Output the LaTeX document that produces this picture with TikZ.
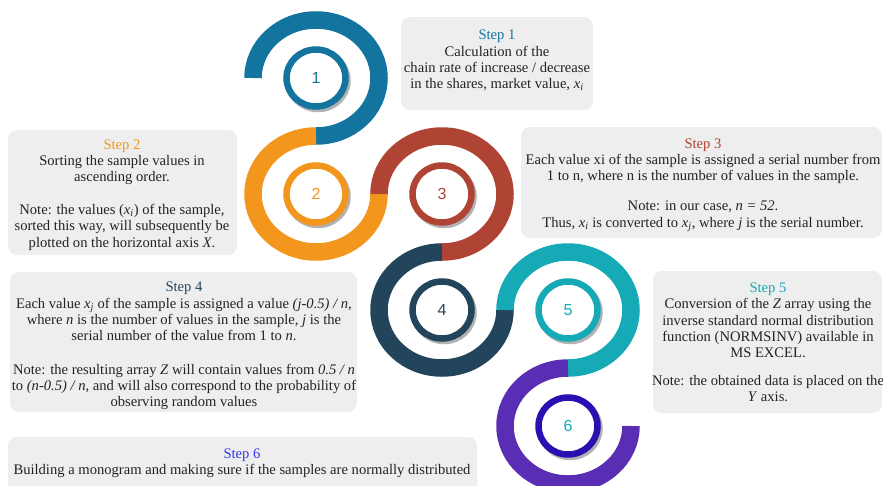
\documentclass[tikz,border=0pt]{standalone}
\usepackage{fontspec}
\setmainfont{Liberation Serif}
\newfontfamily\numfont{Liberation Sans}
\usetikzlibrary{shapes.geometric,shadows}

\definecolor{stepblue}{RGB}{20,116,160}
\definecolor{steporange}{RGB}{242,150,30}
\definecolor{stepred}{RGB}{175,67,52}
\definecolor{stepnavy}{RGB}{35,69,92}
\definecolor{stepteal}{RGB}{22,170,182}
\definecolor{steppurple}{RGB}{90,46,180}
\definecolor{stepindigo}{RGB}{42,16,176}
\definecolor{stepsix}{RGB}{55,55,235}
\definecolor{boxgray}{RGB}{238,238,238}
\definecolor{textdark}{RGB}{35,35,35}

\tikzset{spiral/.style = {draw = #1, line width = 17.5pt},
         ring/.style 2 args = {ellipse, draw = #1, fill = white, line width = 6.5pt,
                               minimum width = 59pt, minimum height = 57pt, inner sep = 0pt,
                               text = #2, font = \numfont\fontsize{16}{16}\selectfont,
                               drop shadow = {shadow xshift = 2pt, shadow yshift = -2.5pt,
                                              fill = none, draw = black!30, opacity = 1,
                                              line width = 6.5pt}},
         stepbox/.style = {fill = boxgray, rounded corners = 9pt},
         steptext/.style = {align = center, inner sep = 0pt, text = textdark,
                            font = \fontsize{14.6}{16.3}\selectfont}
        }

\begin{document}
\begin{tikzpicture}[x = 1pt, y = 1pt]
\useasboundingbox (0,0) rectangle (883,-485);

\fill[stepbox] (401,-17) rectangle (593,-110);
\fill[stepbox] (8,-130) rectangle (237,-255);
\fill[stepbox] (521,-127) rectangle (882,-238);
\fill[stepbox] (10,-272) rectangle (357,-412);
\fill[stepbox] (653,-271) rectangle (882,-413);
\fill[stepbox] (8,-437) rectangle (477,-500);

\node[ring = {stepblue}{stepblue}] at (316,-78) (n1) {1};
\node[ring = {steporange}{steporange}] at (316,-194) (n2) {2};
\node[ring = {stepred}{stepred}] at (442,-194) (n3) {3};
\node[ring = {stepnavy}{stepnavy}] at (442,-310) (n4) {4};
\node[ring = {stepteal}{stepteal}] at (568,-310) (n5) {5};
\node[ring = {stepindigo}{stepteal}] at (568,-426) (n6) {6};

\draw[spiral = stepblue] (n1.center) ++(-63,0) arc[start angle = 180, end angle = -90, x radius = 63, y radius = 58];
\draw[spiral = steporange] (n2.center) ++(0,58) arc[start angle = 90, end angle = 360, x radius = 63, y radius = 58];
\draw[spiral = stepred] (n3.center) ++(-63,0) arc[start angle = 180, end angle = -90, x radius = 63, y radius = 58];
\draw[spiral = stepnavy] (n4.center) ++(0,58) arc[start angle = 90, end angle = 360, x radius = 63, y radius = 58];
\draw[spiral = stepteal] (n5.center) ++(-63,0) arc[start angle = 180, end angle = -90, x radius = 63, y radius = 58];
\draw[spiral = steppurple] (n6.center) ++(0,58) arc[start angle = 90, end angle = 360, x radius = 63, y radius = 58];

\node[steptext] at (497,-60.5) (t1) {\textcolor{stepblue}{Step 1}\\
  Calculation of the\\
  chain rate of increase / decrease\\
  in the shares, market value, \textit{x\textsubscript{i}}};
\node[steptext] at (122,-195) (t2) {\textcolor{steporange}{Step 2}\\
  Sorting the sample values in\\
  ascending order.\\[16.5pt]
  Note: the values (\textit{x\textsubscript{i}}) of the sample,\\
  sorted this way, will subsequently be\\
  plotted on the horizontal axis \textit{X}.};
\node[steptext] at (703,-185) (t3) {\textcolor{stepred}{Step 3}\\
  Each value xi of the sample is assigned a serial number from\\
  1 to n, where n is the number of values in the sample.\\[14pt]
  Note: in our case, \textit{n = 52}.\\
  Thus, \textit{x\textsubscript{i}} is converted to \textit{x\textsubscript{j}}, where \textit{j} is the serial number.};
\node[steptext] at (184,-346) (t4) {\textcolor{stepnavy}{Step 4}\\
  Each value \textit{x\textsubscript{j}} of the sample is assigned a value \textit{(j-0.5) / n},\\
  where \textit{n} is the number of values in the sample, \textit{j} is the\\
  serial number of the value from 1 to \textit{n}.\\[17pt]
  Note: the resulting array \textit{Z} will contain values from \textit{0.5 / n}\\
  to \textit{(n-0.5) / n}, and will also correspond to the probability of\\
  observing random values};
\node[steptext] at (768,-342.5) (t5) {\textcolor{stepteal}{Step 5}\\
  Conversion of the \textit{Z} array using the\\
  inverse standard normal distribution\\
  function (NORMSINV) available in\\
  MS EXCEL.\\[11.5pt]
  Note: the obtained data is placed on the\\
  \textit{Y} axis.};
\node[steptext] at (242,-463) (t6) {\textcolor{stepsix}{Step 6}\\
  Building a monogram and making sure if the samples are normally distributed};
\end{tikzpicture}
\end{document}
